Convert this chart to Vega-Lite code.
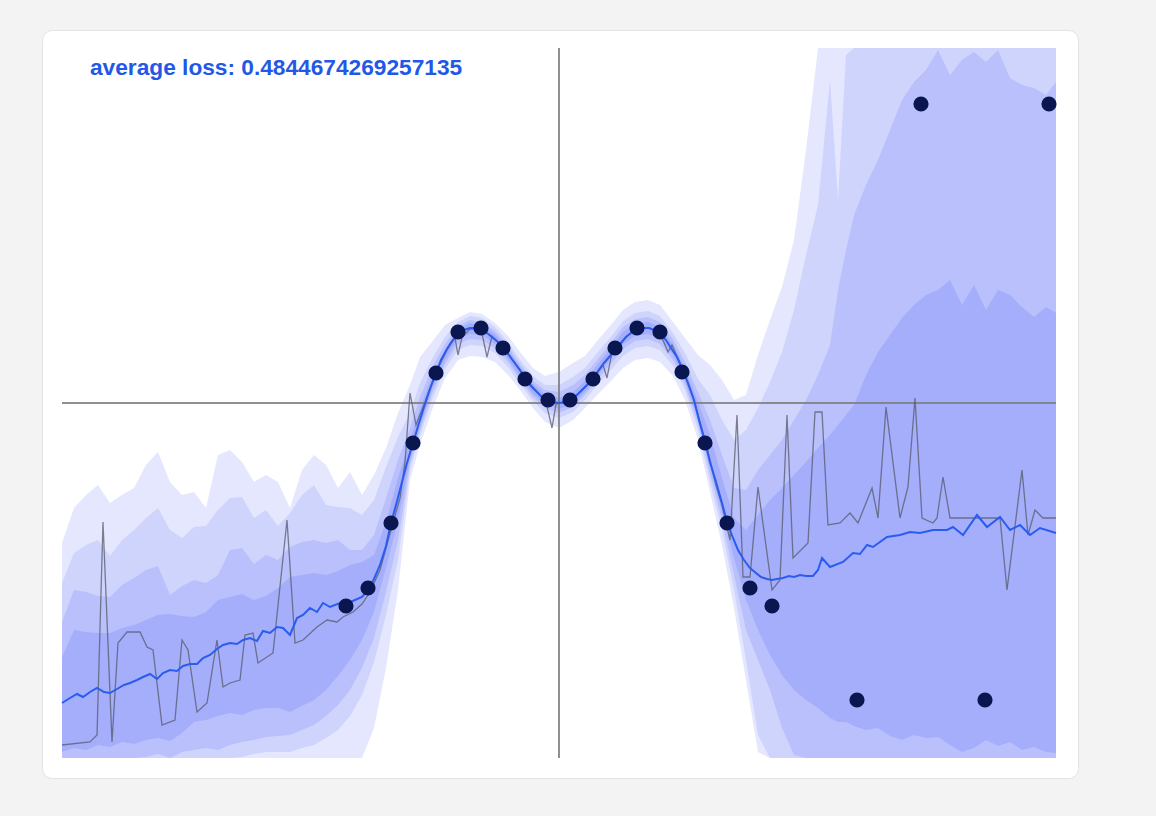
{
  "$schema": "https://vega.github.io/schema/vega-lite/v6.json",
  "width": 1036,
  "height": 748,
  "autosize": {"type": "none"},
  "padding": {"left": 42, "top": 30, "right": 78, "bottom": 38},
  "background": "#f3f3f3",
  "config": {"view": {"fill": "white", "stroke": "#e3e3e3", "strokeWidth": 1, "cornerRadius": 10}},
  "title": {"text": "average loss: 0.4844674269257135", "anchor": "start", "frame": "group", "font": "Liberation Sans", "fontSize": 22.7, "fontWeight": "bold", "color": "#2358e6", "baseline": "alphabetic", "offset": -68, "dx": 48},
  "datasets": {
    "bands": [
      {"x": -9.94, "hi1": -2.80, "hi2": -3.60, "hi3": -4.38, "hi4": -5.08, "lo4": -6.98, "lo3": -7.1, "lo2": -7.1, "lo1": -7.1},
      {"x": -9.70, "hi1": -2.10, "hi2": -3.00, "hi3": -3.74, "hi4": -4.54, "lo4": -6.90, "lo3": -7.1, "lo2": -7.1, "lo1": -7.1},
      {"x": -9.46, "hi1": -1.84, "hi2": -2.84, "hi3": -3.78, "hi4": -4.58, "lo4": -6.94, "lo3": -7.1, "lo2": -7.1, "lo1": -7.1},
      {"x": -9.22, "hi1": -1.64, "hi2": -2.74, "hi3": -3.86, "hi4": -4.60, "lo4": -6.84, "lo3": -7.1, "lo2": -7.1, "lo1": -7.1},
      {"x": -8.98, "hi1": -2.00, "hi2": -3.06, "hi3": -3.88, "hi4": -4.60, "lo4": -6.88, "lo3": -7.1, "lo2": -7.1, "lo1": -7.1},
      {"x": -8.74, "hi1": -1.84, "hi2": -2.74, "hi3": -3.64, "hi4": -4.50, "lo4": -6.78, "lo3": -7.1, "lo2": -7.1, "lo1": -7.1},
      {"x": -8.50, "hi1": -1.70, "hi2": -2.54, "hi3": -3.50, "hi4": -4.44, "lo4": -6.82, "lo3": -7.1, "lo2": -7.1, "lo1": -7.1},
      {"x": -8.26, "hi1": -1.24, "hi2": -2.30, "hi3": -3.34, "hi4": -4.34, "lo4": -6.74, "lo3": -7.08, "lo2": -7.1, "lo1": -7.1},
      {"x": -8.02, "hi1": -0.98, "hi2": -2.10, "hi3": -3.26, "hi4": -4.24, "lo4": -6.70, "lo3": -7.02, "lo2": -7.1, "lo1": -7.1},
      {"x": -7.78, "hi1": -1.58, "hi2": -2.54, "hi3": -3.84, "hi4": -4.22, "lo4": -6.76, "lo3": -7.1, "lo2": -7.1, "lo1": -7.1},
      {"x": -7.54, "hi1": -1.84, "hi2": -2.70, "hi3": -3.66, "hi4": -4.26, "lo4": -6.60, "lo3": -6.98, "lo2": -7.1, "lo1": -7.1},
      {"x": -7.30, "hi1": -1.78, "hi2": -2.48, "hi3": -3.54, "hi4": -4.28, "lo4": -6.38, "lo3": -6.94, "lo2": -7.1, "lo1": -7.1},
      {"x": -7.06, "hi1": -2.10, "hi2": -2.46, "hi3": -3.60, "hi4": -4.18, "lo4": -6.34, "lo3": -6.90, "lo2": -7.1, "lo1": -7.1},
      {"x": -6.82, "hi1": -1.04, "hi2": -2.14, "hi3": -3.44, "hi4": -3.94, "lo4": -6.26, "lo3": -6.94, "lo2": -7.1, "lo1": -7.1},
      {"x": -6.58, "hi1": -0.94, "hi2": -1.90, "hi3": -2.94, "hi4": -3.88, "lo4": -6.20, "lo3": -6.84, "lo2": -7.1, "lo1": -7.1},
      {"x": -6.34, "hi1": -1.18, "hi2": -1.88, "hi3": -2.90, "hi4": -3.82, "lo4": -6.24, "lo3": -6.78, "lo2": -7.08, "lo1": -7.1},
      {"x": -6.10, "hi1": -1.58, "hi2": -2.30, "hi3": -3.22, "hi4": -3.94, "lo4": -6.14, "lo3": -6.74, "lo2": -7.02, "lo1": -7.1},
      {"x": -5.86, "hi1": -1.44, "hi2": -2.14, "hi3": -3.04, "hi4": -3.86, "lo4": -6.10, "lo3": -6.68, "lo2": -6.98, "lo1": -7.1},
      {"x": -5.62, "hi1": -1.58, "hi2": -2.46, "hi3": -3.14, "hi4": -3.70, "lo4": -6.10, "lo3": -6.66, "lo2": -6.98, "lo1": -7.1},
      {"x": -5.38, "hi1": -2.10, "hi2": -2.20, "hi3": -2.88, "hi4": -3.48, "lo4": -6.18, "lo3": -6.64, "lo2": -6.98, "lo1": -7.1},
      {"x": -5.14, "hi1": -1.34, "hi2": -1.84, "hi3": -2.78, "hi4": -3.44, "lo4": -6.06, "lo3": -6.54, "lo2": -6.90, "lo1": -7.1},
      {"x": -4.90, "hi1": -1.04, "hi2": -1.64, "hi3": -2.74, "hi4": -3.40, "lo4": -5.94, "lo3": -6.44, "lo2": -6.84, "lo1": -7.1},
      {"x": -4.66, "hi1": -1.24, "hi2": -2.04, "hi3": -2.80, "hi4": -3.44, "lo4": -5.74, "lo3": -6.26, "lo2": -6.70, "lo1": -7.1},
      {"x": -4.42, "hi1": -1.70, "hi2": -2.08, "hi3": -2.74, "hi4": -3.36, "lo4": -5.46, "lo3": -6.04, "lo2": -6.54, "lo1": -7.1},
      {"x": -4.18, "hi1": -1.38, "hi2": -2.10, "hi3": -2.94, "hi4": -3.24, "lo4": -5.14, "lo3": -5.74, "lo2": -6.26, "lo1": -7.1},
      {"x": -3.94, "hi1": -1.84, "hi2": -2.24, "hi3": -2.94, "hi4": -3.18, "lo4": -4.74, "lo3": -5.30, "lo2": -5.84, "lo1": -7.1},
      {"x": -3.70, "hi1": -1.44, "hi2": -1.94, "hi3": -2.64, "hi4": -3.04, "lo4": -4.18, "lo3": -4.70, "lo2": -5.18, "lo1": -6.50},
      {"x": -3.46, "hi1": -0.90, "hi2": -1.28, "hi3": -1.90, "hi4": -2.38, "lo4": -3.30, "lo3": -3.78, "lo2": -4.24, "lo1": -5.30},
      {"x": -3.22, "hi1": -0.20, "hi2": -0.68, "hi3": -1.14, "hi4": -1.50, "lo4": -2.34, "lo3": -2.74, "lo2": -3.14, "lo1": -3.74},
      {"x": -2.98, "hi1": 0.36, "hi2": -0.20, "hi3": -0.50, "hi4": -0.74, "lo4": -1.12, "lo3": -1.22, "lo2": -1.34, "lo1": -1.54},
      {"x": -2.78, "hi1": 0.92, "hi2": 0.40, "hi3": 0.12, "hi4": -0.12, "lo4": -0.48, "lo3": -0.56, "lo2": -0.66, "lo1": -0.84},
      {"x": -2.54, "hi1": 1.22, "hi2": 0.88, "hi3": 0.70, "hi4": 0.54, "lo4": 0.28, "lo3": 0.18, "lo2": 0.06, "lo1": -0.14},
      {"x": -2.28, "hi1": 1.56, "hi2": 1.32, "hi3": 1.18, "hi4": 1.06, "lo4": 0.86, "lo3": 0.78, "lo2": 0.68, "lo1": 0.50},
      {"x": -2.02, "hi1": 1.70, "hi2": 1.62, "hi3": 1.54, "hi4": 1.48, "lo4": 1.28, "lo3": 1.18, "lo2": 1.06, "lo1": 0.86},
      {"x": -1.78, "hi1": 1.82, "hi2": 1.74, "hi3": 1.66, "hi4": 1.60, "lo4": 1.38, "lo3": 1.28, "lo2": 1.16, "lo1": 0.94},
      {"x": -1.54, "hi1": 1.78, "hi2": 1.70, "hi3": 1.62, "hi4": 1.56, "lo4": 1.36, "lo3": 1.26, "lo2": 1.14, "lo1": 0.92},
      {"x": -1.28, "hi1": 1.60, "hi2": 1.52, "hi3": 1.44, "hi4": 1.38, "lo4": 1.18, "lo3": 1.10, "lo2": 1.00, "lo1": 0.82},
      {"x": -1.02, "hi1": 1.34, "hi2": 1.22, "hi3": 1.14, "hi4": 1.08, "lo4": 0.88, "lo3": 0.82, "lo2": 0.72, "lo1": 0.56},
      {"x": -0.78, "hi1": 1.02, "hi2": 0.86, "hi3": 0.78, "hi4": 0.72, "lo4": 0.52, "lo3": 0.46, "lo2": 0.38, "lo1": 0.26},
      {"x": -0.52, "hi1": 0.70, "hi2": 0.54, "hi3": 0.44, "hi4": 0.38, "lo4": 0.18, "lo3": 0.12, "lo2": 0.04, "lo1": -0.10},
      {"x": -0.28, "hi1": 0.54, "hi2": 0.36, "hi3": 0.26, "hi4": 0.18, "lo4": -0.02, "lo3": -0.10, "lo2": -0.20, "lo1": -0.38},
      {"x": 0.00, "hi1": 0.62, "hi2": 0.36, "hi3": 0.22, "hi4": 0.10, "lo4": -0.12, "lo3": -0.20, "lo2": -0.30, "lo1": -0.50},
      {"x": 0.28, "hi1": 0.80, "hi2": 0.52, "hi3": 0.36, "hi4": 0.22, "lo4": -0.02, "lo3": -0.08, "lo2": -0.18, "lo1": -0.34},
      {"x": 0.52, "hi1": 0.94, "hi2": 0.70, "hi3": 0.56, "hi4": 0.44, "lo4": 0.22, "lo3": 0.16, "lo2": 0.06, "lo1": -0.10},
      {"x": 0.78, "hi1": 1.26, "hi2": 1.02, "hi3": 0.88, "hi4": 0.78, "lo4": 0.56, "lo3": 0.48, "lo2": 0.38, "lo1": 0.18},
      {"x": 1.02, "hi1": 1.54, "hi2": 1.30, "hi3": 1.18, "hi4": 1.08, "lo4": 0.86, "lo3": 0.76, "lo2": 0.64, "lo1": 0.42},
      {"x": 1.28, "hi1": 1.86, "hi2": 1.64, "hi3": 1.52, "hi4": 1.42, "lo4": 1.18, "lo3": 1.08, "lo2": 0.94, "lo1": 0.70},
      {"x": 1.52, "hi1": 2.02, "hi2": 1.80, "hi3": 1.68, "hi4": 1.58, "lo4": 1.34, "lo3": 1.24, "lo2": 1.10, "lo1": 0.86},
      {"x": 1.78, "hi1": 2.06, "hi2": 1.84, "hi3": 1.72, "hi4": 1.62, "lo4": 1.38, "lo3": 1.28, "lo2": 1.14, "lo1": 0.90},
      {"x": 2.02, "hi1": 1.96, "hi2": 1.74, "hi3": 1.62, "hi4": 1.52, "lo4": 1.28, "lo3": 1.18, "lo2": 1.06, "lo1": 0.82},
      {"x": 2.28, "hi1": 1.62, "hi2": 1.40, "hi3": 1.28, "hi4": 1.18, "lo4": 0.96, "lo3": 0.86, "lo2": 0.74, "lo1": 0.54},
      {"x": 2.52, "hi1": 1.30, "hi2": 1.00, "hi3": 0.82, "hi4": 0.70, "lo4": 0.44, "lo3": 0.36, "lo2": 0.26, "lo1": 0.06},
      {"x": 2.78, "hi1": 0.96, "hi2": 0.48, "hi3": 0.22, "hi4": 0.02, "lo4": -0.32, "lo3": -0.42, "lo2": -0.54, "lo1": -0.74},
      {"x": 3.02, "hi1": 0.76, "hi2": 0.16, "hi3": -0.34, "hi4": -0.64, "lo4": -1.30, "lo3": -1.42, "lo2": -1.58, "lo1": -1.78},
      {"x": 3.26, "hi1": 0.46, "hi2": -0.34, "hi3": -1.04, "hi4": -1.50, "lo4": -2.18, "lo3": -2.34, "lo2": -2.54, "lo1": -2.84},
      {"x": 3.50, "hi1": 0.06, "hi2": -0.74, "hi3": -1.70, "hi4": -2.30, "lo4": -3.10, "lo3": -3.44, "lo2": -3.74, "lo1": -4.10},
      {"x": 3.74, "hi1": 0.16, "hi2": -0.54, "hi3": -1.74, "hi4": -2.54, "lo4": -3.94, "lo3": -4.54, "lo2": -5.14, "lo1": -5.54},
      {"x": 3.98, "hi1": 0.96, "hi2": -0.10, "hi3": -1.34, "hi4": -2.24, "lo4": -4.54, "lo3": -5.14, "lo2": -6.64, "lo1": -6.98},
      {"x": 4.22, "hi1": 1.66, "hi2": 0.42, "hi3": -1.04, "hi4": -1.94, "lo4": -5.04, "lo3": -5.74, "lo2": -7.1, "lo1": -7.1},
      {"x": 4.46, "hi1": 2.32, "hi2": 1.02, "hi3": -0.74, "hi4": -1.70, "lo4": -5.44, "lo3": -6.50, "lo2": -7.1, "lo1": -7.1},
      {"x": 4.70, "hi1": 3.26, "hi2": 1.86, "hi3": -0.34, "hi4": -1.44, "lo4": -5.74, "lo3": -7.04, "lo2": -7.1, "lo1": -7.1},
      {"x": 4.94, "hi1": 5.06, "hi2": 2.96, "hi3": 0.06, "hi4": -1.18, "lo4": -5.94, "lo3": -7.1, "lo2": -7.1, "lo1": -7.1},
      {"x": 5.18, "hi1": 7.1, "hi2": 3.96, "hi3": 0.56, "hi4": -0.90, "lo4": -6.10, "lo3": -7.1, "lo2": -7.1, "lo1": -7.1},
      {"x": 5.42, "hi1": 7.1, "hi2": 6.46, "hi3": 1.16, "hi4": -0.64, "lo4": -6.30, "lo3": -7.1, "lo2": -7.1, "lo1": -7.1},
      {"x": 5.58, "hi1": 7.1, "hi2": 4.06, "hi3": 2.26, "hi4": -0.44, "lo4": -6.38, "lo3": -7.1, "lo2": -7.1, "lo1": -7.1},
      {"x": 5.74, "hi1": 7.1, "hi2": 6.96, "hi3": 3.06, "hi4": -0.24, "lo4": -6.38, "lo3": -7.1, "lo2": -7.1, "lo1": -7.1},
      {"x": 5.90, "hi1": 7.1, "hi2": 7.1, "hi3": 3.76, "hi4": -0.04, "lo4": -6.46, "lo3": -7.1, "lo2": -7.1, "lo1": -7.1},
      {"x": 6.14, "hi1": 7.1, "hi2": 7.1, "hi3": 4.36, "hi4": 0.56, "lo4": -6.54, "lo3": -7.1, "lo2": -7.1, "lo1": -7.1},
      {"x": 6.38, "hi1": 7.1, "hi2": 7.1, "hi3": 4.86, "hi4": 1.02, "lo4": -6.50, "lo3": -7.1, "lo2": -7.1, "lo1": -7.1},
      {"x": 6.62, "hi1": 7.1, "hi2": 7.1, "hi3": 5.46, "hi4": 1.36, "lo4": -6.66, "lo3": -7.1, "lo2": -7.1, "lo1": -7.1},
      {"x": 6.86, "hi1": 7.1, "hi2": 7.1, "hi3": 6.06, "hi4": 1.70, "lo4": -6.74, "lo3": -7.1, "lo2": -7.1, "lo1": -7.1},
      {"x": 7.10, "hi1": 7.1, "hi2": 7.1, "hi3": 6.42, "hi4": 1.96, "lo4": -6.64, "lo3": -7.1, "lo2": -7.1, "lo1": -7.1},
      {"x": 7.34, "hi1": 7.1, "hi2": 7.1, "hi3": 6.66, "hi4": 2.16, "lo4": -6.70, "lo3": -7.1, "lo2": -7.1, "lo1": -7.1},
      {"x": 7.58, "hi1": 7.1, "hi2": 7.1, "hi3": 7.06, "hi4": 2.26, "lo4": -6.68, "lo3": -7.1, "lo2": -7.1, "lo1": -7.1},
      {"x": 7.82, "hi1": 7.1, "hi2": 7.1, "hi3": 6.56, "hi4": 2.46, "lo4": -6.84, "lo3": -7.1, "lo2": -7.1, "lo1": -7.1},
      {"x": 8.06, "hi1": 7.1, "hi2": 7.1, "hi3": 6.86, "hi4": 1.96, "lo4": -6.98, "lo3": -7.1, "lo2": -7.1, "lo1": -7.1},
      {"x": 8.30, "hi1": 7.1, "hi2": 7.1, "hi3": 7.02, "hi4": 2.36, "lo4": -6.90, "lo3": -7.1, "lo2": -7.1, "lo1": -7.1},
      {"x": 8.54, "hi1": 7.1, "hi2": 7.1, "hi3": 6.82, "hi4": 1.86, "lo4": -6.74, "lo3": -7.1, "lo2": -7.1, "lo1": -7.1},
      {"x": 8.78, "hi1": 7.1, "hi2": 7.1, "hi3": 7.06, "hi4": 2.26, "lo4": -6.86, "lo3": -7.1, "lo2": -7.1, "lo1": -7.1},
      {"x": 9.02, "hi1": 7.1, "hi2": 7.1, "hi3": 6.50, "hi4": 2.16, "lo4": -6.78, "lo3": -7.1, "lo2": -7.1, "lo1": -7.1},
      {"x": 9.26, "hi1": 7.1, "hi2": 7.1, "hi3": 6.36, "hi4": 1.92, "lo4": -6.94, "lo3": -7.1, "lo2": -7.1, "lo1": -7.1},
      {"x": 9.50, "hi1": 7.1, "hi2": 7.1, "hi3": 6.30, "hi4": 1.72, "lo4": -6.88, "lo3": -7.1, "lo2": -7.1, "lo1": -7.1},
      {"x": 9.74, "hi1": 7.1, "hi2": 7.1, "hi3": 6.16, "hi4": 1.92, "lo4": -6.98, "lo3": -7.1, "lo2": -7.1, "lo1": -7.1},
      {"x": 9.94, "hi1": 7.1, "hi2": 7.1, "hi3": 6.42, "hi4": 1.80, "lo4": -7.00, "lo3": -7.1, "lo2": -7.1, "lo1": -7.1}
    ],
    "mean": [
      {"x": -9.94, "y": -6.00}, {"x": -9.78, "y": -5.90}, {"x": -9.64, "y": -5.82}, {"x": -9.52, "y": -5.88}, {"x": -9.38, "y": -5.78}, {"x": -9.24, "y": -5.70}, {"x": -9.10, "y": -5.78}, {"x": -8.98, "y": -5.80}, {"x": -8.84, "y": -5.72}, {"x": -8.70, "y": -5.64}, {"x": -8.58, "y": -5.60}, {"x": -8.44, "y": -5.54}, {"x": -8.32, "y": -5.48}, {"x": -8.18, "y": -5.42}, {"x": -8.04, "y": -5.52}, {"x": -7.92, "y": -5.40}, {"x": -7.78, "y": -5.34}, {"x": -7.64, "y": -5.36}, {"x": -7.52, "y": -5.26}, {"x": -7.38, "y": -5.22}, {"x": -7.24, "y": -5.22}, {"x": -7.12, "y": -5.10}, {"x": -6.98, "y": -5.04}, {"x": -6.84, "y": -4.92}, {"x": -6.72, "y": -4.84}, {"x": -6.58, "y": -4.80}, {"x": -6.44, "y": -4.82}, {"x": -6.32, "y": -4.74}, {"x": -6.18, "y": -4.70}, {"x": -6.04, "y": -4.76}, {"x": -5.92, "y": -4.56}, {"x": -5.78, "y": -4.60}, {"x": -5.64, "y": -4.48}, {"x": -5.52, "y": -4.50}, {"x": -5.38, "y": -4.64}, {"x": -5.24, "y": -4.30}, {"x": -5.12, "y": -4.24}, {"x": -4.98, "y": -4.10}, {"x": -4.84, "y": -4.18}, {"x": -4.72, "y": -4.00}, {"x": -4.58, "y": -4.08}, {"x": -4.38, "y": -4.00}, {"x": -4.26, "y": -4.02}, {"x": -4.08, "y": -3.94}, {"x": -3.94, "y": -3.88}, {"x": -3.82, "y": -3.74}, {"x": -3.70, "y": -3.52}, {"x": -3.58, "y": -3.24}, {"x": -3.46, "y": -2.86}, {"x": -3.36, "y": -2.40}, {"x": -3.26, "y": -2.04}, {"x": -3.14, "y": -1.58}, {"x": -3.04, "y": -1.20}, {"x": -2.92, "y": -0.80}, {"x": -2.80, "y": -0.40}, {"x": -2.68, "y": -0.02}, {"x": -2.58, "y": 0.28}, {"x": -2.46, "y": 0.60}, {"x": -2.36, "y": 0.86}, {"x": -2.24, "y": 1.08}, {"x": -2.14, "y": 1.24}, {"x": -2.02, "y": 1.38}, {"x": -1.90, "y": 1.46}, {"x": -1.78, "y": 1.50}, {"x": -1.66, "y": 1.50}, {"x": -1.56, "y": 1.46}, {"x": -1.44, "y": 1.40}, {"x": -1.34, "y": 1.32}, {"x": -1.22, "y": 1.22}, {"x": -1.12, "y": 1.10}, {"x": -1.00, "y": 0.96}, {"x": -0.90, "y": 0.82}, {"x": -0.78, "y": 0.66}, {"x": -0.68, "y": 0.50}, {"x": -0.56, "y": 0.34}, {"x": -0.44, "y": 0.22}, {"x": -0.34, "y": 0.12}, {"x": -0.22, "y": 0.06}, {"x": -0.12, "y": 0.02}, {"x": 0.00, "y": 0.00}, {"x": 0.12, "y": 0.02}, {"x": 0.22, "y": 0.06}, {"x": 0.34, "y": 0.14}, {"x": 0.44, "y": 0.24}, {"x": 0.56, "y": 0.36}, {"x": 0.68, "y": 0.50}, {"x": 0.78, "y": 0.64}, {"x": 0.90, "y": 0.80}, {"x": 1.02, "y": 0.94}, {"x": 1.12, "y": 1.06}, {"x": 1.24, "y": 1.20}, {"x": 1.34, "y": 1.32}, {"x": 1.46, "y": 1.42}, {"x": 1.56, "y": 1.46}, {"x": 1.68, "y": 1.50}, {"x": 1.80, "y": 1.50}, {"x": 1.90, "y": 1.46}, {"x": 2.02, "y": 1.40}, {"x": 2.14, "y": 1.26}, {"x": 2.24, "y": 1.10}, {"x": 2.36, "y": 0.92}, {"x": 2.46, "y": 0.70}, {"x": 2.58, "y": 0.40}, {"x": 2.70, "y": 0.06}, {"x": 2.80, "y": -0.34}, {"x": 2.92, "y": -0.78}, {"x": 3.02, "y": -1.18}, {"x": 3.14, "y": -1.58}, {"x": 3.26, "y": -2.00}, {"x": 3.36, "y": -2.38}, {"x": 3.48, "y": -2.70}, {"x": 3.58, "y": -2.94}, {"x": 3.70, "y": -3.14}, {"x": 3.82, "y": -3.30}, {"x": 3.94, "y": -3.40}, {"x": 4.04, "y": -3.48}, {"x": 4.16, "y": -3.52}, {"x": 4.26, "y": -3.54}, {"x": 4.36, "y": -3.52}, {"x": 4.48, "y": -3.50}, {"x": 4.60, "y": -3.46}, {"x": 4.70, "y": -3.48}, {"x": 4.82, "y": -3.44}, {"x": 4.94, "y": -3.46}, {"x": 5.08, "y": -3.46}, {"x": 5.18, "y": -3.34}, {"x": 5.26, "y": -3.10}, {"x": 5.42, "y": -3.28}, {"x": 5.68, "y": -3.18}, {"x": 5.88, "y": -3.00}, {"x": 6.02, "y": -3.02}, {"x": 6.16, "y": -2.84}, {"x": 6.28, "y": -2.88}, {"x": 6.56, "y": -2.68}, {"x": 6.82, "y": -2.64}, {"x": 7.02, "y": -2.58}, {"x": 7.22, "y": -2.60}, {"x": 7.48, "y": -2.54}, {"x": 7.76, "y": -2.54}, {"x": 7.88, "y": -2.48}, {"x": 8.08, "y": -2.64}, {"x": 8.36, "y": -2.24}, {"x": 8.56, "y": -2.48}, {"x": 8.82, "y": -2.28}, {"x": 9.02, "y": -2.54}, {"x": 9.22, "y": -2.44}, {"x": 9.42, "y": -2.64}, {"x": 9.62, "y": -2.50}, {"x": 9.94, "y": -2.60}
    ],
    "sample": [
      {"x": -9.94, "y": -6.84}, {"x": -9.38, "y": -6.78}, {"x": -9.24, "y": -6.64}, {"x": -9.12, "y": -2.38}, {"x": -8.94, "y": -6.78}, {"x": -8.82, "y": -4.80}, {"x": -8.64, "y": -4.58}, {"x": -8.38, "y": -4.58}, {"x": -8.24, "y": -4.88}, {"x": -8.12, "y": -4.94}, {"x": -7.94, "y": -6.44}, {"x": -7.68, "y": -6.34}, {"x": -7.54, "y": -4.74}, {"x": -7.42, "y": -4.94}, {"x": -7.24, "y": -6.18}, {"x": -7.04, "y": -6.00}, {"x": -6.84, "y": -4.74}, {"x": -6.72, "y": -5.68}, {"x": -6.58, "y": -5.60}, {"x": -6.38, "y": -5.54}, {"x": -6.28, "y": -4.64}, {"x": -6.12, "y": -4.60}, {"x": -6.02, "y": -5.20}, {"x": -5.72, "y": -5.00}, {"x": -5.44, "y": -2.34}, {"x": -5.28, "y": -4.80}, {"x": -5.12, "y": -4.74}, {"x": -4.84, "y": -4.48}, {"x": -4.64, "y": -4.34}, {"x": -4.44, "y": -4.38}, {"x": -4.32, "y": -4.28}, {"x": -4.12, "y": -4.18}, {"x": -3.94, "y": -4.02}, {"x": -3.78, "y": -3.78}, {"x": -3.58, "y": -3.34}, {"x": -3.36, "y": -2.54}, {"x": -3.18, "y": -1.90}, {"x": -3.08, "y": -1.18}, {"x": -2.98, "y": 0.20}, {"x": -2.86, "y": -0.44}, {"x": -2.68, "y": 0.02}, {"x": -2.46, "y": 0.62}, {"x": -2.24, "y": 1.06}, {"x": -2.08, "y": 1.30}, {"x": -2.02, "y": 0.96}, {"x": -1.94, "y": 1.32}, {"x": -1.78, "y": 1.48}, {"x": -1.56, "y": 1.48}, {"x": -1.44, "y": 0.92}, {"x": -1.34, "y": 1.34}, {"x": -1.12, "y": 1.10}, {"x": -0.90, "y": 0.82}, {"x": -0.68, "y": 0.50}, {"x": -0.44, "y": 0.22}, {"x": -0.26, "y": 0.02}, {"x": -0.14, "y": -0.50}, {"x": -0.06, "y": -0.02}, {"x": 0.22, "y": 0.06}, {"x": 0.44, "y": 0.24}, {"x": 0.68, "y": 0.48}, {"x": 0.88, "y": 0.76}, {"x": 0.96, "y": 0.50}, {"x": 1.06, "y": 1.02}, {"x": 1.34, "y": 1.32}, {"x": 1.56, "y": 1.48}, {"x": 1.80, "y": 1.50}, {"x": 2.02, "y": 1.40}, {"x": 2.18, "y": 1.02}, {"x": 2.26, "y": 1.16}, {"x": 2.46, "y": 0.70}, {"x": 2.70, "y": 0.06}, {"x": 2.92, "y": -0.74}, {"x": 3.14, "y": -1.64}, {"x": 3.26, "y": -2.04}, {"x": 3.42, "y": -2.74}, {"x": 3.56, "y": -0.24}, {"x": 3.68, "y": -3.48}, {"x": 3.82, "y": -3.48}, {"x": 3.98, "y": -1.68}, {"x": 4.26, "y": -3.74}, {"x": 4.42, "y": -3.54}, {"x": 4.56, "y": -0.24}, {"x": 4.68, "y": -3.10}, {"x": 4.98, "y": -2.80}, {"x": 5.12, "y": -0.18}, {"x": 5.26, "y": -0.18}, {"x": 5.38, "y": -2.44}, {"x": 5.62, "y": -2.40}, {"x": 5.82, "y": -2.20}, {"x": 5.98, "y": -2.40}, {"x": 6.26, "y": -1.70}, {"x": 6.38, "y": -2.30}, {"x": 6.54, "y": -0.08}, {"x": 6.82, "y": -2.30}, {"x": 6.98, "y": -1.68}, {"x": 7.12, "y": 0.10}, {"x": 7.26, "y": -2.30}, {"x": 7.48, "y": -2.40}, {"x": 7.56, "y": -2.30}, {"x": 7.68, "y": -1.48}, {"x": 7.82, "y": -2.30}, {"x": 8.82, "y": -2.30}, {"x": 8.96, "y": -3.74}, {"x": 9.26, "y": -1.34}, {"x": 9.38, "y": -2.64}, {"x": 9.52, "y": -2.14}, {"x": 9.68, "y": -2.30}, {"x": 9.94, "y": -2.30}
    ],
    "points": [
      {"x": -4.26, "y": -4.06}, {"x": -3.82, "y": -3.70}, {"x": -3.36, "y": -2.40}, {"x": -2.92, "y": -0.80}, {"x": -2.46, "y": 0.60}, {"x": -2.02, "y": 1.42}, {"x": -1.56, "y": 1.50}, {"x": -1.12, "y": 1.10}, {"x": -0.68, "y": 0.48}, {"x": -0.22, "y": 0.06},
      {"x": 0.22, "y": 0.06}, {"x": 0.68, "y": 0.48}, {"x": 1.12, "y": 1.10}, {"x": 1.56, "y": 1.50}, {"x": 2.02, "y": 1.42}, {"x": 2.46, "y": 0.62}, {"x": 2.92, "y": -0.80}, {"x": 3.36, "y": -2.40}, {"x": 3.82, "y": -3.70}, {"x": 4.26, "y": -4.06},
      {"x": 5.96, "y": -5.94}, {"x": 8.52, "y": -5.94}, {"x": 7.24, "y": 5.98}, {"x": 9.80, "y": 5.98}
    ],
    "cross": [
      {"x": -9.94, "x2": 9.94, "y": 0, "y2": 0},
      {"x": 0, "x2": 0, "y": -7.1, "y2": 7.1}
    ]
  },
  "layer": [
    {
      "data": {"name": "bands"},
      "mark": {"type": "area", "color": "#e4e7fd"},
      "encoding": {
        "x": {"field": "x", "type": "quantitative", "scale": {"domain": [-10.34, 10.38], "nice": false, "zero": false}, "axis": null},
        "y": {"field": "hi1", "type": "quantitative", "scale": {"domain": [-7.5, 7.46], "nice": false, "zero": false}, "axis": null},
        "y2": {"field": "lo1"}
      }
    },
    {
      "data": {"name": "bands"},
      "mark": {"type": "area", "color": "#cfd4fd"},
      "encoding": {
        "x": {"field": "x", "type": "quantitative", "scale": {"domain": [-10.34, 10.38], "nice": false, "zero": false}, "axis": null},
        "y": {"field": "hi2", "type": "quantitative", "scale": {"domain": [-7.5, 7.46], "nice": false, "zero": false}, "axis": null},
        "y2": {"field": "lo2"}
      }
    },
    {
      "data": {"name": "bands"},
      "mark": {"type": "area", "color": "#b9c0fc"},
      "encoding": {
        "x": {"field": "x", "type": "quantitative", "scale": {"domain": [-10.34, 10.38], "nice": false, "zero": false}, "axis": null},
        "y": {"field": "hi3", "type": "quantitative", "scale": {"domain": [-7.5, 7.46], "nice": false, "zero": false}, "axis": null},
        "y2": {"field": "lo3"}
      }
    },
    {
      "data": {"name": "bands"},
      "mark": {"type": "area", "color": "#a5aefb"},
      "encoding": {
        "x": {"field": "x", "type": "quantitative", "scale": {"domain": [-10.34, 10.38], "nice": false, "zero": false}, "axis": null},
        "y": {"field": "hi4", "type": "quantitative", "scale": {"domain": [-7.5, 7.46], "nice": false, "zero": false}, "axis": null},
        "y2": {"field": "lo4"}
      }
    },
    {
      "data": {"name": "cross"},
      "mark": {"type": "rule", "color": "#7c7c7c", "strokeWidth": 2, "opacity": 0.85},
      "encoding": {
        "x": {"field": "x", "type": "quantitative", "scale": {"domain": [-10.34, 10.38], "nice": false, "zero": false}, "axis": null},
        "x2": {"field": "x2"},
        "y": {"field": "y", "type": "quantitative", "scale": {"domain": [-7.5, 7.46], "nice": false, "zero": false}, "axis": null},
        "y2": {"field": "y2"}
      }
    },
    {
      "data": {"name": "sample"},
      "mark": {"type": "line", "color": "#555a6a", "strokeWidth": 1.3, "opacity": 0.75},
      "encoding": {
        "x": {"field": "x", "type": "quantitative", "scale": {"domain": [-10.34, 10.38], "nice": false, "zero": false}, "axis": null},
        "y": {"field": "y", "type": "quantitative", "scale": {"domain": [-7.5, 7.46], "nice": false, "zero": false}, "axis": null}
      }
    },
    {
      "data": {"name": "mean"},
      "mark": {"type": "line", "color": "#2b5cf0", "strokeWidth": 2},
      "encoding": {
        "x": {"field": "x", "type": "quantitative", "scale": {"domain": [-10.34, 10.38], "nice": false, "zero": false}, "axis": null},
        "y": {"field": "y", "type": "quantitative", "scale": {"domain": [-7.5, 7.46], "nice": false, "zero": false}, "axis": null}
      }
    },
    {
      "data": {"name": "points"},
      "mark": {"type": "circle", "color": "#0a1650", "size": 230, "opacity": 1},
      "encoding": {
        "x": {"field": "x", "type": "quantitative", "scale": {"domain": [-10.34, 10.38], "nice": false, "zero": false}, "axis": null},
        "y": {"field": "y", "type": "quantitative", "scale": {"domain": [-7.5, 7.46], "nice": false, "zero": false}, "axis": null}
      }
    }
  ]
}
